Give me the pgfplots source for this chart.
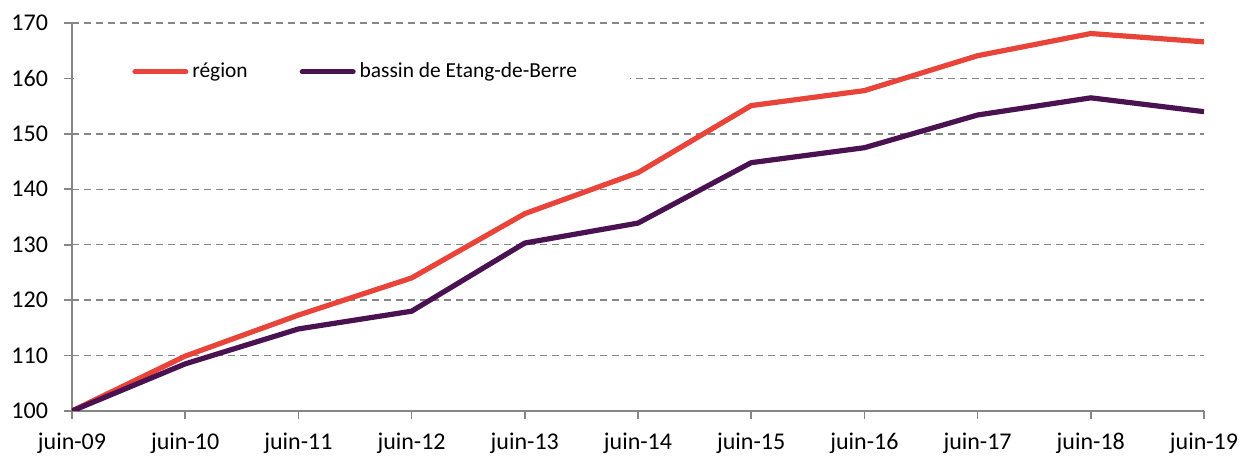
\documentclass[border=0pt]{standalone}
\usepackage{fontspec}
\setmainfont{Carlito}
\usepackage{pgfplots}
\pgfplotsset{compat=1.18}
\definecolor{cred}{HTML}{E8443A}
\definecolor{cpurple}{HTML}{4A1250}
\definecolor{cgray}{HTML}{868686}
\begin{document}
\begin{tikzpicture}
\begin{axis}[
  name=ax,
  scale only axis,
  width=566pt, height=194pt,
  xmin=0, xmax=10, ymin=100, ymax=170,
  xtick={0,...,10},
  xticklabels={juin-09,juin-10,juin-11,juin-12,juin-13,juin-14,juin-15,juin-16,juin-17,juin-18,juin-19},
  ytick={100,110,...,170},
  axis x line*=bottom, axis y line*=left,
  axis line style={cgray, line width=0.8pt, -},
  tick style={cgray, line width=0.8pt},
  tick align=outside, major tick length=4pt,
  ymajorgrids,
  grid style={cgray, line width=0.75pt, dash pattern=on 3.5pt off 2.5pt},
  /pgf/number format/assume math mode=true,
  ticklabel style={font=\fontsize{12}{14}\selectfont},
  yticklabel style={xshift=-4.5pt},
  xticklabel style={yshift=-3.5pt},
  legend columns=2,
  legend style={draw=none, fill=none, at={(rel axis cs:0.053,0.874)}, anchor=west,
    font=\fontsize{10.7}{12}\selectfont, column sep=0pt, inner sep=0pt,
    /tikz/every even column/.append style={column sep=24pt}},
  legend image code/.code={\draw[#1, line width=2.5pt, line cap=round] (0pt,0pt) -- (25.5pt,0pt);},
]
\fill[white] (rel axis cs:0.002,0.81) rectangle (rel axis cs:0.493,0.90);
\addplot[cred, line width=2.6pt, line join=round] coordinates {
(0,100) (1,109.9) (2,117.3) (3,124.0) (4,135.6) (5,143.0) (6,155.1) (7,157.8) (8,164.1) (9,168.1) (10,166.6)};
\addlegendentry{région}
\addplot[cpurple, line width=2.6pt, line join=round] coordinates {
(0,100) (1,108.5) (2,114.8) (3,118.0) (4,130.3) (5,133.9) (6,144.8) (7,147.5) (8,153.4) (9,156.5) (10,154.0)};
\addlegendentry{bassin de Etang-de-Berre}
\end{axis}
\pgfresetboundingbox
\path ([xshift=-36pt,yshift=-22.5pt]ax.south west) rectangle ([xshift=19.5pt,yshift=11.5pt]ax.north east);
\end{tikzpicture}
\end{document}
